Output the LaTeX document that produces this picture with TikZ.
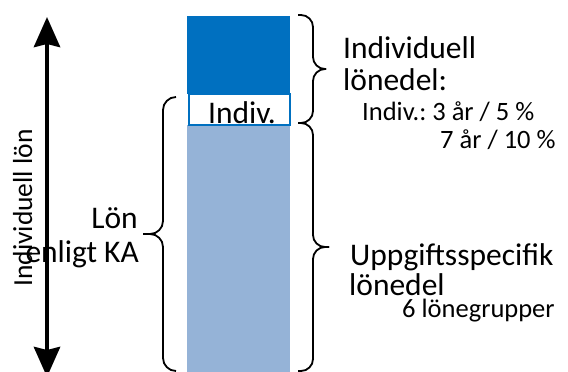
\documentclass[tikz,border=0pt]{standalone}
\usepackage{fontspec}
\setmainfont{Carlito}
\usepackage{xcolor}
\usetikzlibrary{arrows.meta}
\frenchspacing
\definecolor{darkbar}{HTML}{0070C0}
\definecolor{lightbar}{HTML}{95B3D7}
\newcommand{\bigtxt}{\fontsize{31.5}{32}\selectfont}
\newcommand{\smalltxt}{\fontsize{26.5}{28}\selectfont}
\tikzstyle{mybrace} = [
    draw=black,
    line width=1.8pt,
    rounded corners=12pt
    ]
\tikzstyle{biglabel} = [
    inner sep=0pt,
    anchor=base west,
    font=\bigtxt
    ]
\tikzstyle{smalllabel} = [
    inner sep=0pt,
    anchor=base west,
    font=\smalltxt
    ]

\begin{document}
\begin{tikzpicture}[x=1pt,y=-1pt]
\useasboundingbox (0,0) rectangle (568,372);
% the bar
\fill[darkbar] (187,16) rectangle (290,94);
\fill[lightbar] (187,125) rectangle (290,380);
\node[draw=darkbar, fill=white, line width=2pt, inner sep=0pt,
    minimum width=101pt, minimum height=31pt, anchor=north west] (indivbox) at (188,93) {};
\node[biglabel, anchor=base] (indivtext) at (242,123) {Indiv.};
% axis
\coordinate (axtop) at (47,17);
\coordinate (axbot) at (47,377);
\draw[line width=4.5pt, {Stealth[length=30pt,width=26pt,inset=3pt]}-{Stealth[length=30pt,width=26pt,inset=3pt]}] (axtop) -- (axbot);
\node[smalllabel, font=\fontsize{27.5}{28}\selectfont, rotate=90] (axlabel) at (32,287) {Individuell lön};
% braces
\draw[mybrace, rounded corners=13pt] (176,97) -- (163,97) -- (163,234) -- (143,234);
\draw[mybrace, rounded corners=13pt] (143,234) -- (163,234) -- (163,371) -- (176,371);
\draw[mybrace] (298,15) -- (313,15) -- (313,69) -- (326,69);
\draw[mybrace] (326,69) -- (313,69) -- (313,123) -- (298,123);
\draw[mybrace] (298,123) -- (313,123) -- (313,247) -- (329,247);
\draw[mybrace] (329,247) -- (313,247) -- (313,371) -- (298,371);
% texts
\node[biglabel, anchor=base east] (lon) at (138,228) {Lön};
\node[biglabel, anchor=base east] (enligt) at (139,262) {enligt KA};
\node[biglabel] (indiv1) at (343,58) {Individuell};
\node[biglabel] (indiv2) at (343,90) {lönedel:};
\node[smalllabel] (indiv3) at (362,120) {Indiv.: 3 år / 5 \%};
\node[smalllabel] (indiv4) at (440,148) {7 år / 10 \%};
\node[biglabel] (uppg1) at (350,265) {Uppgiftsspecifik};
\node[biglabel] (uppg2) at (349,295) {lönedel};
\node[smalllabel] (uppg3) at (402,317) {6 lönegrupper};
\end{tikzpicture}
\end{document}
